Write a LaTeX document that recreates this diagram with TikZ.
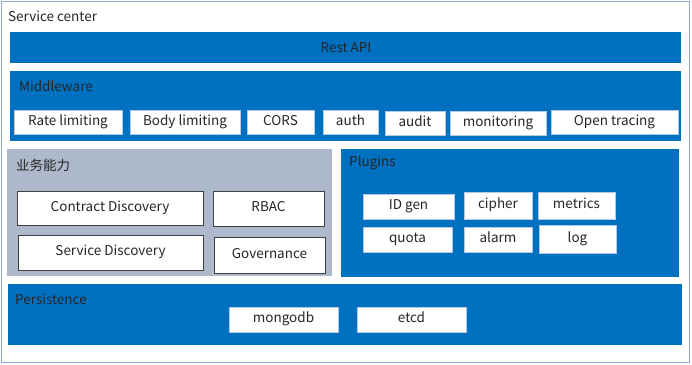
\documentclass[tikz,border=0pt]{standalone}
\usepackage{fontspec}
\setmainfont{Noto Sans CJK SC}
\usepackage{xcolor}
\definecolor{frameblue}{HTML}{8FAADC}
\definecolor{layerblue}{HTML}{0070C0}
\definecolor{layergray}{HTML}{ADB9CA}
\definecolor{boxedge}{HTML}{B4C7E7}
\definecolor{darkedge}{HTML}{404040}
\definecolor{darktext}{HTML}{262626}

\begin{document}
\begin{tikzpicture}[x=1pt,y=-1pt,font=\fontsize{13.5}{15}\selectfont,text=darktext,
  lowtext/.style={text height=9.5pt,text depth=3pt,yshift=-2pt},
  wbox/.style={draw=boxedge,line width=1pt,fill=white,inner sep=0pt,lowtext},
  gbox/.style={draw=darkedge,line width=1pt,fill=white,inner sep=0pt,lowtext},
  title/.style={anchor=west,inner sep=0pt}]
\useasboundingbox (0,0) rectangle (692,364);
% outer frame
\fill[white] (0,0) rectangle (692,364);
\draw[frameblue,line width=1pt] (1,1) rectangle (689,362);
\node[title] (center) at (8,16) {Service center};

% Rest API
\fill[layerblue] (10,32) rectangle (681,63);
\node[lowtext] (rest) at (346,47.5) {Rest API};

% Middleware
\fill[layerblue] (10,71) rectangle (681,141);
\node[title] (middle) at (19,86) {Middleware};
\node[wbox,minimum width=108pt,minimum height=24pt] (rate) at (68,120) {Rate limiting};
\node[wbox,minimum width=110pt,minimum height=24pt] (body) at (185,120) {Body limiting};
\node[wbox,minimum width=67pt,minimum height=24pt] (cors) at (280.5,120) {CORS};
\node[wbox,minimum width=55pt,minimum height=24pt] (auth) at (350.5,120) {auth};
\node[wbox,minimum width=60pt,minimum height=24pt] (audit) at (415,121) {audit};
\node[wbox,minimum width=96pt,minimum height=24pt] (monitor) at (498,121) {monitoring};
\node[wbox,minimum width=127pt,minimum height=24pt] (tracing) at (614.5,120) {Open tracing};

% business capabilities
\fill[layergray] (7,149) rectangle (332,276);
\node[title] (business) at (16,165) {业务能力};
\node[gbox,minimum width=186pt,minimum height=34pt] (contract) at (110,206) {Contract Discovery};
\node[gbox,minimum width=111pt,minimum height=35pt] (rbac) at (268.5,206.5) {RBAC};
\node[gbox,minimum width=185pt,minimum height=35pt] (service) at (110.5,250.5) {Service Discovery};
\node[gbox,minimum width=111pt,minimum height=36pt] (govern) at (269.5,253) {Governance};

% Plugins
\fill[layerblue] (341,149) rectangle (679,277);
\node[title] (plugins) at (349,163) {Plugins};
\node[wbox,minimum width=91pt,minimum height=25pt] (idgen) at (408.5,204.5) {ID gen};
\node[wbox,minimum width=68pt,minimum height=27pt] (cipher) at (498,203.5) {cipher};
\node[wbox,minimum width=77pt,minimum height=27pt] (metrics) at (576.5,203.5) {metrics};
\node[wbox,minimum width=89pt,minimum height=25pt] (quota) at (407.5,237.5) {quota};
\node[wbox,minimum width=68pt,minimum height=25pt] (alarm) at (498,237.5) {alarm};
\node[wbox,minimum width=77pt,minimum height=28pt] (log) at (577.5,237) {log};

% Persistence
\fill[layerblue] (8,284) rectangle (682,345);
\node[title] (persist) at (15,299) {Persistence};
\node[wbox,minimum width=109pt,minimum height=25pt] (mongo) at (283.5,317.5) {mongodb};
\node[wbox,minimum width=109pt,minimum height=25pt] (etcd) at (411.5,317.5) {etcd};
\end{tikzpicture}
\end{document}
